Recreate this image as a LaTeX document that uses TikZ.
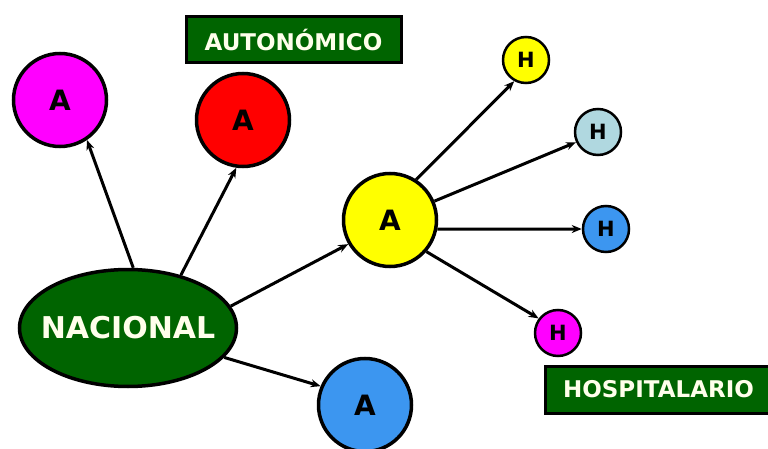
\documentclass[tikz,border=0pt]{standalone}
\usepackage{fontspec}
\setmainfont{DejaVu Sans}
\usetikzlibrary{shapes.geometric,arrows.meta}
\definecolor{dgreen}{RGB}{0,100,0}
\definecolor{cmag}{RGB}{255,0,255}
\definecolor{cred}{RGB}{255,0,0}
\definecolor{cyel}{RGB}{255,255,0}
\definecolor{clblue}{RGB}{176,216,224}
\definecolor{cblue}{RGB}{60,150,240}
\definecolor{cream}{RGB}{255,255,235}
\tikzset{
  bigA/.style={circle,draw=black,line width=3.5pt,minimum size=93pt,inner sep=0pt,font=\bfseries\fontsize{28}{28}\selectfont},
  smallH/.style={circle,draw=black,line width=2.5pt,minimum size=46pt,inner sep=0pt,font=\bfseries\fontsize{21}{21}\selectfont},
  labelbox/.style={rectangle,draw=black,line width=3pt,fill=dgreen,text=cream,inner sep=0pt,font=\bfseries\fontsize{23}{23}\selectfont},
  conn/.style={line width=3pt,-{Stealth[length=10pt,width=8pt]}}
}
\begin{document}
\begin{tikzpicture}[x=1pt,y=-1pt]
\useasboundingbox (0,0) rectangle (768,449);
\clip (0,0) rectangle (768,449);
\node[ellipse,draw=black,line width=3.5pt,fill=dgreen,minimum width=217pt,minimum height=117pt,inner sep=0pt] (nac) at (128,328) {};
\node[text=cream,font=\bfseries\fontsize{30}{30}\selectfont] (nact) at (nac.center) {NACIONAL};
\node[bigA,fill=cmag] (am) at (60,100) {A};
\node[bigA,fill=cred] (ar) at (243,120) {A};
\node[bigA,fill=cyel] (ay) at (390,220) {A};
\node[bigA,fill=cblue] (ab) at (365,405) {A};
\node[smallH,fill=cyel] (h1) at (526,60) {H};
\node[smallH,fill=clblue] (h2) at (598,132) {H};
\node[smallH,fill=cblue] (h3) at (606,229) {H};
\node[smallH,fill=cmag] (h4) at (558,333) {H};
\node[labelbox,minimum width=215pt,minimum height=46pt] (aut) at (293.5,40) {AUTONÓMICO};
\node[labelbox,minimum width=226pt,minimum height=47pt,anchor=west] (hos) at (544,389.5) {HOSPITALARIO};
\draw[conn] (nac.85) -- (am.-56);
\draw[conn] (nac.45) -- (ar.-98);
\draw[conn] (nac.12) -- (ay.210);
\draw[conn] (nac.-17) -- (ab.157);
\draw[conn] (ay.57) -- (h1.241);
\draw[conn] (ay.23) -- (h2.205);
\draw[conn] (ay.-11) -- (h3.180);
\draw[conn] (ay.-41) -- (h4.143);
\end{tikzpicture}
\end{document}
